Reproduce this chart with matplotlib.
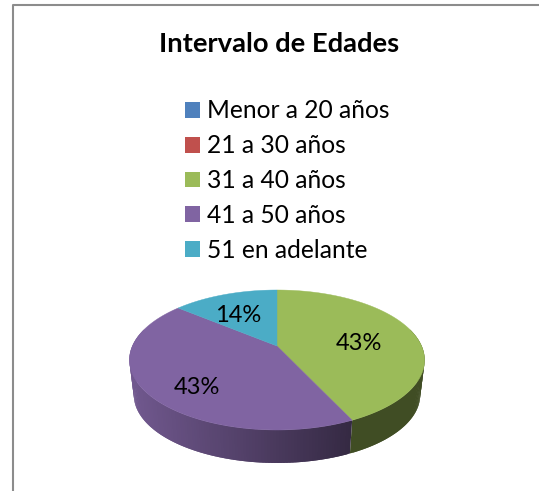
import numpy as np
import matplotlib
matplotlib.use('Agg')
import matplotlib.pyplot as plt
from matplotlib.lines import Line2D
from matplotlib.patches import Patch

categories = ['Menor a 20 años', '21 a 30 años', '31 a 40 años', '41 a 50 años', '51 en adelante']
values = [0, 0, 43, 43, 14]
labels = ['', '', '43%', '43%', '14%']
colors = ['#4F81BD', '#C0504D', '#9BBB59', '#8064A2', '#4BACC6']
title = 'Intervalo de Edades'

# pie geometry in pixels, perspective fitted on the picture
cx, cy = 277, 346
ax_r, ay_r = 144.6, 67.2
persp = 0.2
bottom_scale, bottom_drop = 0.97, 35.5
label_pos = {2: (359, 343), 3: (197, 387), 4: (238, 316)}


def project(angle, r=1.0):
    # angle in radians, clockwise from the top
    x = r * np.sin(angle)
    y = r * np.cos(angle)
    d = 1 + persp * y
    return cx + ax_r * x / d, cy - ay_r * y / d


def shade(color, px):
    rgb = np.array(matplotlib.colors.to_rgb(color))
    k = np.interp(px, [130, 352], [0.88, 0.41])
    return tuple(rgb * k)


fig = plt.figure(figsize=(5.39, 4.91), dpi=100)
ax = fig.add_axes([0, 0, 1, 1])
ax.set_xlim(0, 539)
ax.set_ylim(491, 0)
ax.axis('off')

# chart frame, cut off on the right and at the bottom
frame = Line2D([12.5, 12.5, 539], [491, 4.5, 4.5], color='#8c8c8c', linewidth=1.5)
ax.add_line(frame)

ax.text(279, 44, title, ha='center', va='center', fontsize=19.7, fontweight='bold',
        family='Lato', color='black')

handles = [Patch(facecolor=c, edgecolor='none') for c in colors]
leg = ax.legend(handles, categories, loc='upper left', bbox_to_anchor=(185 / 539, 1 - 99.5 / 491),
                frameon=False, prop={'family': 'Lato', 'size': 17.7},
                handlelength=0.61, handleheight=0.61, handletextpad=0.28, labelspacing=0.48,
                borderpad=0, borderaxespad=0)

total = sum(values)
edges = np.cumsum([0] + values) / total * 2 * np.pi

# side wall first, only the front part of it shows
for i, v in enumerate(values):
    if v == 0:
        continue
    ts = np.linspace(edges[i], edges[i + 1], 160)
    if i == 2:
        # green runs left to right going backwards, draw from the back so strips overlap
        ts = ts[::-1]
    for a, b in zip(ts[:-2], ts[2:]):
        if np.cos((a + b) / 2) > 0.25:
            continue
        x1, y1 = project(a)
        x2, y2 = project(b)
        x3 = cx + (x2 - cx) * bottom_scale
        y3 = cy + (y2 - cy) * bottom_scale + bottom_drop
        x4 = cx + (x1 - cx) * bottom_scale
        y4 = cy + (y1 - cy) * bottom_scale + bottom_drop
        col = shade(colors[i], (x1 + x2) / 2)
        ax.fill([x1, x2, x3, x4], [y1, y2, y3, y4], color=col, linewidth=0, zorder=2)

# top face
for i, v in enumerate(values):
    if v == 0:
        continue
    ts = np.linspace(edges[i], edges[i + 1], 200)
    xs, ys = project(ts)
    ax.fill(np.r_[cx, xs], np.r_[cy, ys], color=colors[i], linewidth=0.3, zorder=3)

for i, lab in enumerate(labels):
    if lab:
        ax.text(*label_pos[i], lab, ha='center', va='center', fontsize=17, family='Lato',
                color='black', zorder=4)

fig.savefig('out.png', dpi=100)
